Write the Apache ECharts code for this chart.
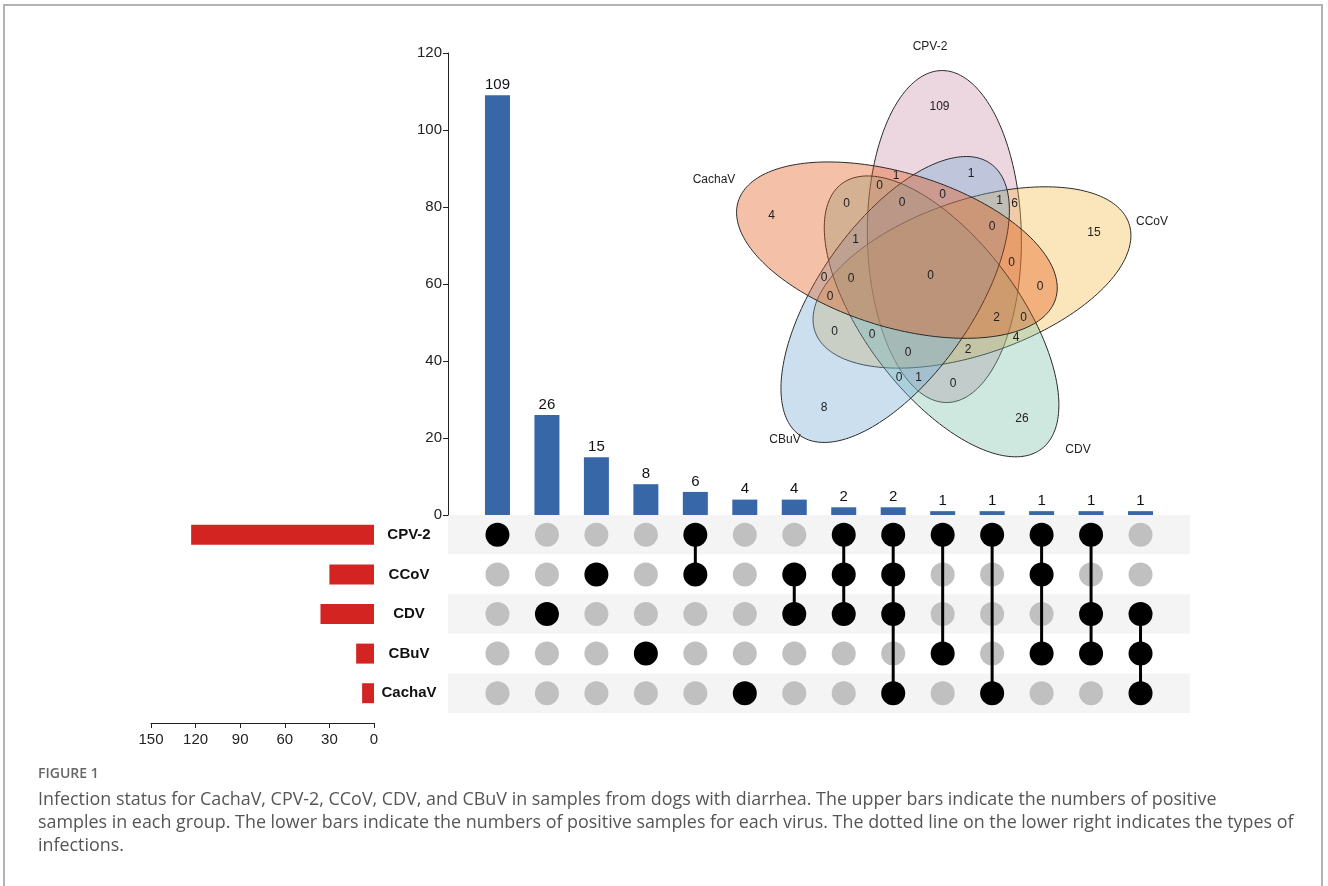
<!DOCTYPE html>
<html>
<head>
<meta charset="utf-8">
<title>Figure 1</title>
<script src="https://cdn.jsdelivr.net/npm/echarts@6/dist/echarts.min.js"></script>
<style>
  html, body { margin: 0; padding: 0; background: #fff; }
  #main { width: 1328px; height: 886px; }
</style>
</head>
<body>
<div id="main"></div>
<script>
// virus sets, matrix rows from top to bottom
const setNames = ['CPV-2', 'CCoV', 'CDV', 'CBuV', 'CachaV'];
// positive samples per virus (red bars)
const setSizes = [123, 30, 36, 12, 8];
// infection types (matrix columns) and their counts (blue bars)
const comboSets = [
  ['CPV-2'], ['CDV'], ['CCoV'], ['CBuV'], ['CPV-2', 'CCoV'], ['CachaV'],
  ['CCoV', 'CDV'], ['CPV-2', 'CCoV', 'CDV'], ['CPV-2', 'CCoV', 'CDV', 'CachaV'],
  ['CPV-2', 'CBuV'], ['CPV-2', 'CachaV'], ['CPV-2', 'CCoV', 'CBuV'],
  ['CPV-2', 'CDV', 'CBuV'], ['CDV', 'CBuV', 'CachaV']
];
const comboCounts = [109, 26, 15, 8, 6, 4, 4, 2, 2, 1, 1, 1, 1, 1];
const countTicks = [0, 20, 40, 60, 80, 100, 120];
const sizeTicks = [0, 30, 60, 90, 120, 150];

const captionTitle = 'FIGURE 1';
const captionLines = [
  'Infection status for CachaV, CPV-2, CCoV, CDV, and CBuV in samples from dogs with diarrhea. The upper bars indicate the numbers of positive',
  'samples in each group. The lower bars indicate the numbers of positive samples for each virus. The dotted line on the lower right indicates the types of',
  'infections.'
];

// venn layout (units of the venn grid, 1 unit = 100px)
const vennCenterAngle = 70, vennTilt = 21, vennDist = 0.42, vennA = 1.66, vennB = 0.77;
const vennFill = ['rgba(201,141,166,0.36)', 'rgba(244,184,66,0.36)', 'rgba(118,189,166,0.36)',
                  'rgba(112,166,212,0.36)', 'rgba(225,80,10,0.36)'];
const vennNamePos = [[0, 2.29], [2.22, 0.54], [1.48, -1.74], [-1.45, -1.64], [-2.16, 0.96]];

const ellipses = setNames.map((n, i) => {
  const al = (vennCenterAngle - 72 * i) * Math.PI / 180;
  return { cx: vennDist * Math.cos(al), cy: vennDist * Math.sin(al),
           rot: al + vennTilt * Math.PI / 180, a: vennA, b: vennB };
});

// exclusive region counts for the venn, taken from the intersections
function maskOf(list) { return list.reduce((m, s) => m | (1 << setNames.indexOf(s)), 0); }
const regionCount = {};
for (let m = 1; m < 32; m++) regionCount[m] = 0;
comboSets.forEach((c, i) => { regionCount[maskOf(c)] = comboCounts[i]; });

// find a roomy spot inside every region for its label
const best = {};
for (let x = -2.5; x <= 2.7; x += 0.015) {
  for (let y = -2.1; y <= 2.5; y += 0.015) {
    let m = 0, depth = Infinity;
    ellipses.forEach((e, i) => {
      const dx = x - e.cx, dy = y - e.cy;
      const c = Math.cos(e.rot), s = Math.sin(e.rot);
      const u = dx * c + dy * s, v = -dx * s + dy * c;
      const q = u * u / (e.a * e.a) + v * v / (e.b * e.b);
      if (q < 1) m |= 1 << i;
      const g = 2 * Math.sqrt(u * u / Math.pow(e.a, 4) + v * v / Math.pow(e.b, 4));
      depth = Math.min(depth, Math.abs(q - 1) / (g || 1e-9));
    });
    if (m && (!best[m] || depth > best[m].d)) best[m] = { d: depth, x: x, y: y };
  }
}
const regionLabels = Object.keys(best).map(m => [best[m].x, best[m].y, regionCount[m]]);

// matrix dots and links
const dotsOn = [], dotsOff = [], links = [];
comboSets.forEach((c, j) => {
  const rows = [];
  setNames.forEach((s, r) => {
    if (c.includes(s)) { dotsOn.push([j, r]); rows.push(r); } else dotsOff.push([j, r]);
  });
  if (rows.length > 1) links.push([j, Math.min(...rows), Math.max(...rows)]);
});

const font = '"Liberation Sans", Arial, sans-serif';
const linkSeries = links.map(l => ({
  type: 'line', xAxisIndex: 1, yAxisIndex: 1, data: [[l[0], l[1]], [l[0], l[2]]],
  symbol: 'none', lineStyle: { color: '#000', width: 3 }, z: 3, silent: true, animation: false
}));

const myChart = echarts.init(document.getElementById('main'));
const option = {
  animation: false,
  textStyle: { fontFamily: font },
  grid: [
    { left: 448, top: 53, width: 742, height: 462, containLabel: false, outerBoundsMode: 'none' },
    { left: 448, top: 515, width: 742, height: 198, containLabel: false, outerBoundsMode: 'none' },
    { left: 151, top: 515, width: 223, height: 198, containLabel: false, outerBoundsMode: 'none' },
    { left: 680, top: 26, width: 520, height: 460, containLabel: false, outerBoundsMode: 'none' }
  ],
  xAxis: [
    { gridIndex: 0, type: 'value', min: -1, max: 14, show: false },
    { gridIndex: 1, type: 'value', min: -1, max: 14, show: false },
    {
      gridIndex: 2, type: 'value', inverse: true, position: 'bottom', offset: 10,
      min: sizeTicks[0], max: sizeTicks[sizeTicks.length - 1], interval: sizeTicks[1] - sizeTicks[0],
      axisLine: { show: true, onZero: false, lineStyle: { color: '#222', width: 1 } },
      axisTick: { show: true, length: 5, lineStyle: { color: '#222' } },
      axisLabel: { color: '#222', fontSize: 15, margin: 9, fontFamily: font },
      splitLine: { show: false }
    },
    { gridIndex: 3, type: 'value', min: -2.5, max: 2.7, show: false }
  ],
  yAxis: [
    {
      gridIndex: 0, type: 'value',
      min: countTicks[0], max: countTicks[countTicks.length - 1], interval: countTicks[1] - countTicks[0],
      axisLine: { show: true, onZero: false, lineStyle: { color: '#222', width: 1 } },
      axisTick: { show: true, length: 5, lineStyle: { color: '#222' } },
      axisLabel: { color: '#222', fontSize: 15, margin: 6, fontFamily: font },
      splitLine: { show: false }
    },
    {
      gridIndex: 1, type: 'category', inverse: true, data: setNames,
      axisLine: { show: false }, axisTick: { show: false },
      axisLabel: { color: '#111', fontSize: 15, fontWeight: 'bold', align: 'center', margin: 39, fontFamily: font },
      splitLine: { show: false },
      splitArea: { show: true, areaStyle: { color: ['#f4f4f4', '#ffffff'] } }
    },
    { gridIndex: 2, type: 'category', inverse: true, data: setNames, show: false },
    { gridIndex: 3, type: 'value', min: -2.1, max: 2.5, show: false }
  ],
  series: [
    {
      type: 'bar', xAxisIndex: 0, yAxisIndex: 0, barWidth: 25,
      data: comboCounts.map((v, j) => [j, v]),
      itemStyle: { color: '#3767a6' },
      label: { show: true, position: 'top', distance: 3, color: '#111', fontSize: 15, fontFamily: font,
               formatter: p => p.value[1] }
    },
    {
      type: 'scatter', xAxisIndex: 1, yAxisIndex: 1, data: dotsOff, symbolSize: 24,
      itemStyle: { color: '#c0c0c0', opacity: 1 }, z: 2, silent: true
    },
    ...linkSeries,
    {
      type: 'scatter', xAxisIndex: 1, yAxisIndex: 1, data: dotsOn, symbolSize: 24,
      itemStyle: { color: '#000', opacity: 1 }, z: 4, silent: true
    },
    {
      type: 'bar', xAxisIndex: 2, yAxisIndex: 2, barWidth: 20, data: setSizes,
      itemStyle: { color: '#d42421' }
    },
    {
      type: 'custom', xAxisIndex: 3, yAxisIndex: 3, silent: true,
      data: setNames.map((n, i) => [i]),
      renderItem: function (params, api) {
        const i = api.value(0), e = ellipses[i];
        const pts = [];
        for (let k = 0; k < 200; k++) {
          const t = k / 200 * 2 * Math.PI;
          const u = e.a * Math.cos(t), v = e.b * Math.sin(t);
          pts.push(api.coord([e.cx + u * Math.cos(e.rot) - v * Math.sin(e.rot),
                              e.cy + u * Math.sin(e.rot) + v * Math.cos(e.rot)]));
        }
        return { type: 'polygon', shape: { points: pts },
                 style: { fill: vennFill[i], stroke: '#2a2a2a', lineWidth: 1 } };
      }
    },
    {
      type: 'custom', xAxisIndex: 3, yAxisIndex: 3, silent: true, z: 5,
      data: regionLabels,
      renderItem: function (params, api) {
        const p = api.coord([api.value(0), api.value(1)]);
        return { type: 'text', x: p[0], y: p[1],
                 style: { text: String(api.value(2)), textAlign: 'center', textVerticalAlign: 'middle',
                          fill: '#222', font: '12px ' + font } };
      }
    },
    {
      type: 'custom', xAxisIndex: 3, yAxisIndex: 3, silent: true, z: 5,
      data: vennNamePos.map((p, i) => [p[0], p[1], i]),
      renderItem: function (params, api) {
        const p = api.coord([api.value(0), api.value(1)]);
        return { type: 'text', x: p[0], y: p[1],
                 style: { text: setNames[api.value(2)], textAlign: 'center', textVerticalAlign: 'middle',
                          fill: '#222', font: '12px ' + font } };
      }
    }
  ],
  graphic: [
    { type: 'rect', silent: true, shape: { x: 4, y: 5, width: 1318, height: 900 },
      style: { fill: 'none', stroke: '#b3b3b3', lineWidth: 2 } },
    { type: 'text', left: 38, top: 767, silent: true,
      style: { text: captionTitle, font: '600 14px "Open Sans"', fill: '#666' } },
    { type: 'text', left: 38, top: 788, silent: true,
      style: { text: captionLines.join('\n'), font: '17.9px "Open Sans"', fill: '#555', lineHeight: 23 } }
  ]
};
myChart.setOption(option);
window.addEventListener('resize', () => { myChart.resize(); });
</script>
</body>
</html>
